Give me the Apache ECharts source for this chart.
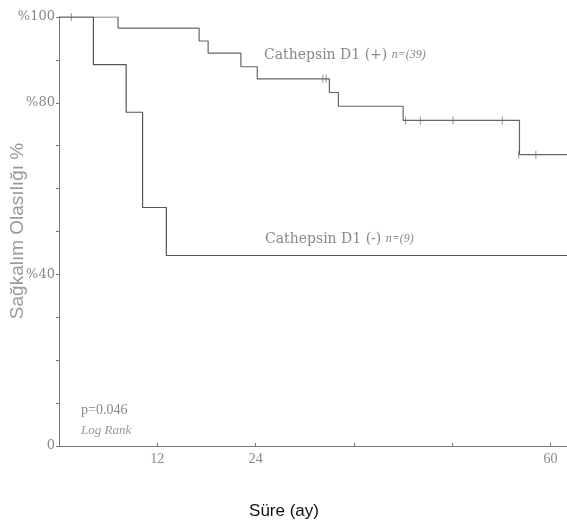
<!DOCTYPE html>
<html>
<head>
<meta charset="utf-8">
<script src="https://cdn.jsdelivr.net/npm/echarts@6/dist/echarts.min.js"></script>
<style>
  html, body { margin: 0; padding: 0; background: #fff; }
  #survivalChart { width: 567px; height: 524px; }
</style>
</head>
<body>
<div id="survivalChart"></div>
<script>
// Kaplan-Meier verileri (ay, %)
const posTimes = [0, 7.2, 17.1, 18.2, 22.2, 24.2, 33.0, 34.1, 42.0, 56.2, 62];
const posSurv = [100, 97.4, 94.4, 91.6, 88.4, 85.6, 82.4, 79.2, 75.9, 67.9, 67.9];
const negTimes = [0, 4.2, 8.2, 10.2, 13.1, 62];
const negSurv = [100, 88.9, 77.8, 55.6, 44.4, 44.4];
// sansürlenmiş hastalar
const censorTimes = [1.5, 32.2, 32.6, 42.3, 44.1, 48.1, 54.1, 56.1, 58.2];
const censorSurv = [100, 85.6, 85.6, 75.9, 75.9, 75.9, 75.9, 67.9, 67.9];
// eksen etiketleri
const yTickLabels = { 100: "%100", 80: "%80", 40: "%40", 0: "0" };
const xTickLabels = { 12: "12", 24: "24", 60: "60" };

const zip = (a, b) => a.map((v, i) => [v, b[i]]);
const serif = "'Liberation Serif', serif";
const wideSerif = "'DejaVu Serif', serif";

const chart = echarts.init(document.getElementById("survivalChart"));
chart.setOption({
  animation: false,
  grid: { left: 59, right: 0, top: 17, bottom: 78, outerBoundsMode: "none" },
  xAxis: {
    type: "value",
    min: 0,
    max: 62,
    interval: 12,
    splitLine: { show: false },
    axisLine: { lineStyle: { color: "#777", width: 1 } },
    axisTick: { inside: true, length: 3, lineStyle: { color: "#777" } },
    axisLabel: {
      formatter: (v) => xTickLabels[v] || "",
      color: "#888",
      fontFamily: serif,
      fontSize: 14,
      margin: 6,
    },
  },
  yAxis: {
    type: "value",
    min: 0,
    max: 100,
    interval: 10,
    splitLine: { show: false },
    axisLine: { show: true, lineStyle: { color: "#777", width: 1 } },
    axisTick: { show: true, length: 3, lineStyle: { color: "#777" } },
    axisLabel: {
      formatter: (v) => yTickLabels[v] || "",
      color: "#888",
      fontFamily: wideSerif,
      fontSize: 13,
      margin: 4,
    },
  },
  series: [
    {
      name: "Cathepsin D1 (+)",
      type: "line",
      step: "end",
      symbol: "none",
      data: zip(posTimes, posSurv),
      lineStyle: { color: "#666", width: 1.2 },
    },
    {
      name: "Cathepsin D1 (-)",
      type: "line",
      step: "end",
      symbol: "none",
      data: zip(negTimes, negSurv),
      lineStyle: { color: "#555", width: 1.2 },
    },
    {
      name: "censor",
      type: "scatter",
      symbol: "rect",
      symbolSize: [1, 8],
      itemStyle: { color: "#777" },
      data: zip(censorTimes, censorSurv),
    },
  ],
  graphic: [
    {
      type: "text",
      left: 264,
      top: 48,
      style: {
        text: "Cathepsin D1 (+) {i|n=(39)}",
        fill: "#888",
        font: "14px " + wideSerif,
        rich: { i: { fontStyle: "italic", fontSize: 12, fill: "#888", fontFamily: serif } },
      },
    },
    {
      type: "text",
      left: 265,
      top: 232,
      style: {
        text: "Cathepsin D1 (-) {i|n=(9)}",
        fill: "#888",
        font: "14px " + wideSerif,
        rich: { i: { fontStyle: "italic", fontSize: 12, fill: "#888", fontFamily: serif } },
      },
    },
    {
      type: "text",
      left: 81,
      top: 403,
      style: { text: "p=0.046", fill: "#888", font: "14px " + serif },
    },
    {
      type: "text",
      left: 81,
      top: 424,
      style: { text: "Log Rank", fill: "#999", font: "italic 13px " + serif },
    },
    {
      type: "text",
      x: 18,
      y: 231,
      rotation: Math.PI / 2,
      style: {
        text: "Sağkalım Olasılığı %",
        fill: "#999",
        font: "19px 'Liberation Sans', Arial, sans-serif",
        align: "center",
        verticalAlign: "middle",
      },
    },
    {
      type: "text",
      x: 284,
      y: 511,
      style: {
        text: "Süre (ay)",
        fill: "#111",
        font: "17px 'Liberation Sans', Arial, sans-serif",
        align: "center",
        verticalAlign: "middle",
      },
    },
  ],
});
</script>
</body>
</html>
